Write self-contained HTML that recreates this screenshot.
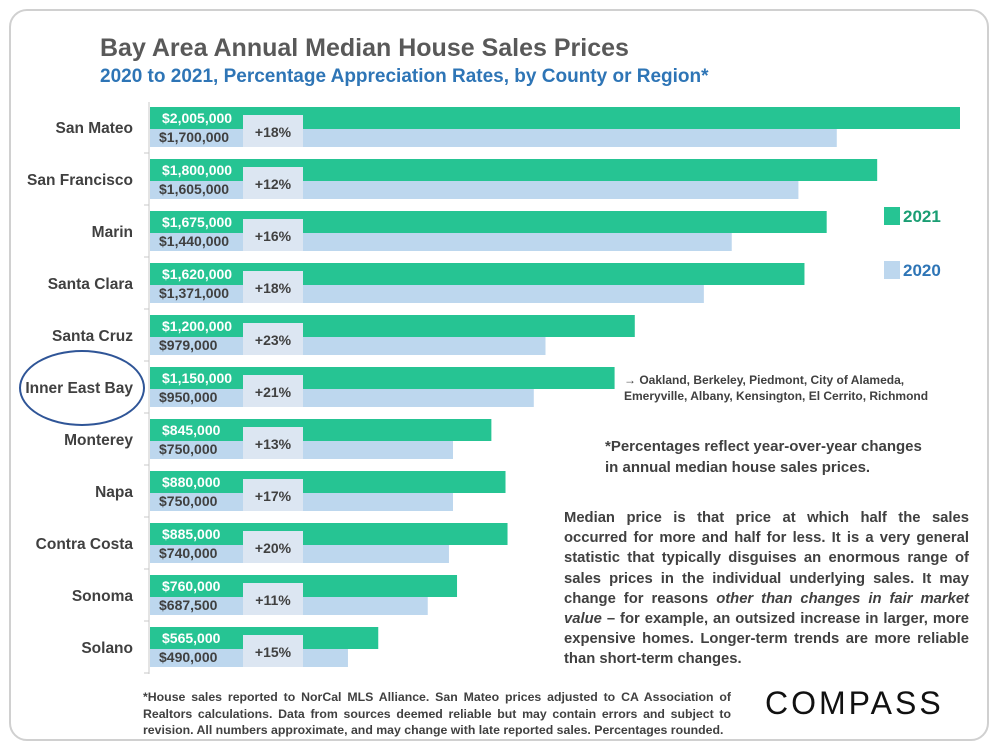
<!DOCTYPE html>
<html><head><meta charset="utf-8"><style>
body{margin:0;background:#fff;font-family:"Liberation Sans",sans-serif;}
#card{position:absolute;left:9px;top:9px;width:980px;height:732px;border:2px solid #d0d0d0;border-radius:18px;box-sizing:border-box;}
.t{position:absolute;white-space:nowrap;}
</style></head><body>
<div id="card"></div>
<div class="t" style="left:100px;top:34px;font-size:25px;font-weight:bold;color:#595959;">Bay Area Annual Median House Sales Prices</div>
<div class="t" style="left:100px;top:66px;font-size:19px;font-weight:bold;color:#2e75b6;">2020 to 2021, Percentage Appreciation Rates, by County or Region*</div>
<svg id="chart" width="1000" height="750" style="position:absolute;left:0;top:0"></svg>
<div class="t" style="left:884px;top:207px;font-size:17px;font-weight:bold;color:#1a9e73;"><span style="display:inline-block;width:16px;height:18px;background:#26c493;vertical-align:-3px;margin-right:3px"></span>2021</div>
<div class="t" style="left:884px;top:261px;font-size:17px;font-weight:bold;color:#2e75b6;"><span style="display:inline-block;width:16px;height:18px;background:#bdd7ee;vertical-align:-3px;margin-right:3px"></span>2020</div>
<div class="t" style="left:624px;top:372px;font-size:12px;font-weight:bold;color:#404040;line-height:16px;">→ Oakland, Berkeley, Piedmont, City of Alameda,<br>Emeryville, Albany, Kensington, El Cerrito, Richmond</div>
<div class="t" style="left:605px;top:436px;font-size:15px;font-weight:bold;color:#404040;line-height:21px;">*Percentages reflect year-over-year changes<br>in annual median house sales prices.</div>
<div style="position:absolute;left:564px;top:508px;width:405px;font-size:14.8px;font-weight:bold;color:#404040;line-height:20.2px;text-align:justify;">Median price is that price at which half the sales occurred for more and half for less. It is a very general statistic that typically disguises an enormous range of sales prices in the individual underlying sales. It may change for reasons <i>other than changes in fair market value</i> – for example, an outsized increase in larger, more expensive homes. Longer-term trends are more reliable than short-term changes.</div>
<div style="position:absolute;left:143px;top:689px;width:588px;font-size:12.3px;font-weight:bold;color:#404040;line-height:16.5px;text-align:justify;">*House sales reported to NorCal MLS Alliance. San Mateo prices adjusted to CA Association of Realtors calculations. Data from sources deemed reliable but may contain errors and subject to revision.  All numbers approximate, and may change with late reported sales. Percentages rounded.</div>
<div class="t" style="left:765px;top:685px;font-size:32px;letter-spacing:3px;color:#111;">COMPASS</div>
<div style="position:absolute;left:19px;top:350px;width:126px;height:76px;border:2px solid #2f5597;border-radius:50%;box-sizing:border-box;"></div>
<script>
const categories=["San Mateo","San Francisco","Marin","Santa Clara","Santa Cruz","Inner East Bay","Monterey","Napa","Contra Costa","Sonoma","Solano"];
const values2021=[2005000,1800000,1675000,1620000,1200000,1150000,845000,880000,885000,760000,565000];
const values2020=[1700000,1605000,1440000,1371000,979000,950000,750000,750000,740000,687500,490000];
const pctLabels=["+18%","+12%","+16%","+18%","+23%","+21%","+13%","+17%","+20%","+11%","+15%"];
const svg=document.getElementById('chart');
const NS='http://www.w3.org/2000/svg';
const x0=150, xScale=v=>x0+v*810/2005000;
const yCenter=i=>127+i*52;
const fmt=v=>'$'+v.toLocaleString('en-US');
function mk(tag,attrs){const e=document.createElementNS(NS,tag);for(const k in attrs)e.setAttribute(k,attrs[k]);svg.appendChild(e);return e;}
const ax=mk('line',{x1:149,x2:149,y1:102,y2:674,stroke:'#c8c8c8','stroke-width':1});


categories.forEach((c,i)=>{
  const y=yCenter(i);
  const b1=mk('rect',{x:x0,y:y-20,width:xScale(values2021[i])-x0,height:22,fill:'#26c493'});
  
  
  const b0=mk('rect',{x:x0,y:y+2,width:xScale(values2020[i])-x0,height:18,fill:'#bdd7ee'});
  
  
  const tk=mk('line',{x1:144,x2:149,y1:y+26,y2:y+26,stroke:'#c8c8c8'});
  
  
  const pb=mk('rect',{x:243,y:y-12,width:60,height:32,fill:'#dce6f2'});
  
  
  const pt=mk('text',{x:273,y:y+10,'text-anchor':'middle','font-size':14,'font-weight':'bold',fill:'#404040','font-family':'Liberation Sans'});
  pt.textContent=pctLabels[i];
  
  
  const l1=mk('text',{x:162,y:y-4,'font-size':14,'font-weight':'bold',fill:'#fff','font-family':'Liberation Sans'});
  l1.textContent=fmt(values2021[i]);
  
  
  const l0=mk('text',{x:159,y:y+15,'font-size':14,'font-weight':'bold',fill:'#404040','font-family':'Liberation Sans'});
  l0.textContent=fmt(values2020[i]);
  
  
  const cl=mk('text',{x:133,y:y+6,'text-anchor':'end','font-size':15.5,'font-weight':'bold',fill:'#404040','font-family':'Liberation Sans'});
  cl.textContent=c;
  
  
});
</script>
</body></html>
